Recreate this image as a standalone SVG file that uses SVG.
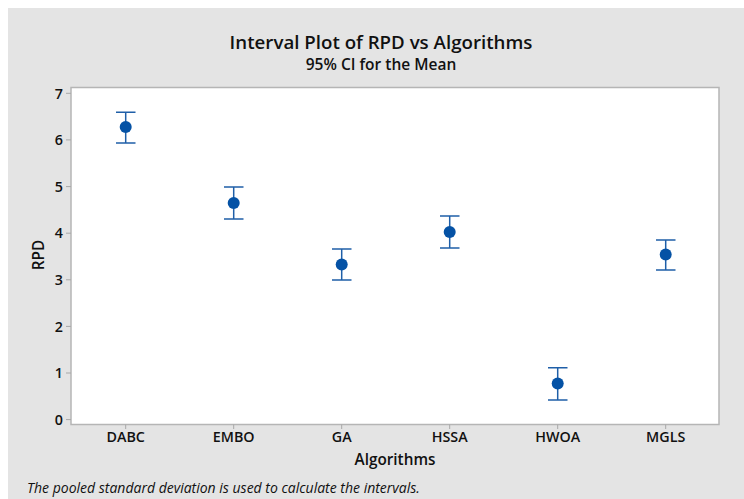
<svg xmlns="http://www.w3.org/2000/svg" width="744" height="499" viewBox="0 0 744 499">
<style>
text{font-family:"Open Sans","Noto Sans","Liberation Sans",sans-serif;fill:#111}
.t{font-size:18.7px;font-weight:600}
.st{font-size:15.5px;font-weight:600}
.tk{font-size:14.3px;font-weight:600}
.ax{font-size:15.3px;font-weight:600}
.ft{font-size:14px;font-style:italic}
.tick{stroke:#a8a8a8;stroke-width:1}
.bar{stroke:#1f5fa8;stroke-width:1.5;fill:none}
.pt{fill:#0552a5}
</style>
<rect x="0" y="0" width="744" height="499" fill="#ffffff"/>
<rect x="8" y="8" width="736" height="491" fill="#e4e4e4"/>
<rect x="71" y="87.5" width="648" height="337" fill="#ffffff" stroke="#b5b5b5" stroke-width="1.5"/>
<text class="t" x="381" y="49" text-anchor="middle">Interval Plot of RPD vs Algorithms</text>
<text class="st" x="381" y="70" text-anchor="middle">95% CI for the Mean</text>
<g id="y-axis">
<line class="tick" x1="66" y1="93.3" x2="71" y2="93.3"/>
<line class="tick" x1="66" y1="139.9" x2="71" y2="139.9"/>
<line class="tick" x1="66" y1="186.6" x2="71" y2="186.6"/>
<line class="tick" x1="66" y1="233.2" x2="71" y2="233.2"/>
<line class="tick" x1="66" y1="279.8" x2="71" y2="279.8"/>
<line class="tick" x1="66" y1="326.4" x2="71" y2="326.4"/>
<line class="tick" x1="66" y1="373" x2="71" y2="373"/>
<line class="tick" x1="66" y1="419.6" x2="71" y2="419.6"/>
<text class="tk" x="63" y="98.5" text-anchor="end">7</text>
<text class="tk" x="63" y="145" text-anchor="end">6</text>
<text class="tk" x="63" y="191.7" text-anchor="end">5</text>
<text class="tk" x="63" y="238.3" text-anchor="end">4</text>
<text class="tk" x="63" y="284.9" text-anchor="end">3</text>
<text class="tk" x="63" y="331.5" text-anchor="end">2</text>
<text class="tk" x="63" y="378.1" text-anchor="end">1</text>
<text class="tk" x="63" y="424.7" text-anchor="end">0</text>
<text class="ax" transform="translate(44,255) rotate(-90)" text-anchor="middle">RPD</text>
</g>
<g id="x-axis">
<line class="tick" x1="125.7" y1="424.5" x2="125.7" y2="429"/>
<line class="tick" x1="233.7" y1="424.5" x2="233.7" y2="429"/>
<line class="tick" x1="341.7" y1="424.5" x2="341.7" y2="429"/>
<line class="tick" x1="449.7" y1="424.5" x2="449.7" y2="429"/>
<line class="tick" x1="557.7" y1="424.5" x2="557.7" y2="429"/>
<line class="tick" x1="665.7" y1="424.5" x2="665.7" y2="429"/>
<text class="tk" x="125.7" y="442" text-anchor="middle">DABC</text>
<text class="tk" x="233.7" y="442" text-anchor="middle">EMBO</text>
<text class="tk" x="341.7" y="442" text-anchor="middle">GA</text>
<text class="tk" x="449.7" y="442" text-anchor="middle">HSSA</text>
<text class="tk" x="557.7" y="442" text-anchor="middle">HWOA</text>
<text class="tk" x="665.7" y="442" text-anchor="middle">MGLS</text>
<text class="ax" x="395" y="465" text-anchor="middle">Algorithms</text>
</g>
<g id="connectors">
<path class="bar" d="M125.7 112.3V143M116 112.3H135.5M116 143H135.5"/>
<path class="bar" d="M233.7 187V219M224 187H243.5M224 219H243.5"/>
<path class="bar" d="M341.7 249V280M332 249H351.5M332 280H351.5"/>
<path class="bar" d="M449.7 216V248M440 216H459.5M440 248H459.5"/>
<path class="bar" d="M557.7 367.7V400M548 367.7H567.5M548 400H567.5"/>
<path class="bar" d="M665.7 240V270M656 240H675.5M656 270H675.5"/>
</g>
<g id="DABC"><circle class="pt" cx="125.7" cy="127" r="6"/></g>
<g id="EMBO"><circle class="pt" cx="233.7" cy="203" r="6"/></g>
<g id="GA"><circle class="pt" cx="341.7" cy="264.5" r="6"/></g>
<g id="HSSA"><circle class="pt" cx="449.7" cy="232" r="6"/></g>
<g id="HWOA"><circle class="pt" cx="557.7" cy="383.5" r="6"/></g>
<g id="MGLS"><circle class="pt" cx="665.7" cy="254.5" r="6"/></g>
<text class="ft" x="27" y="493">The pooled standard deviation is used to calculate the intervals.</text>
</svg>
